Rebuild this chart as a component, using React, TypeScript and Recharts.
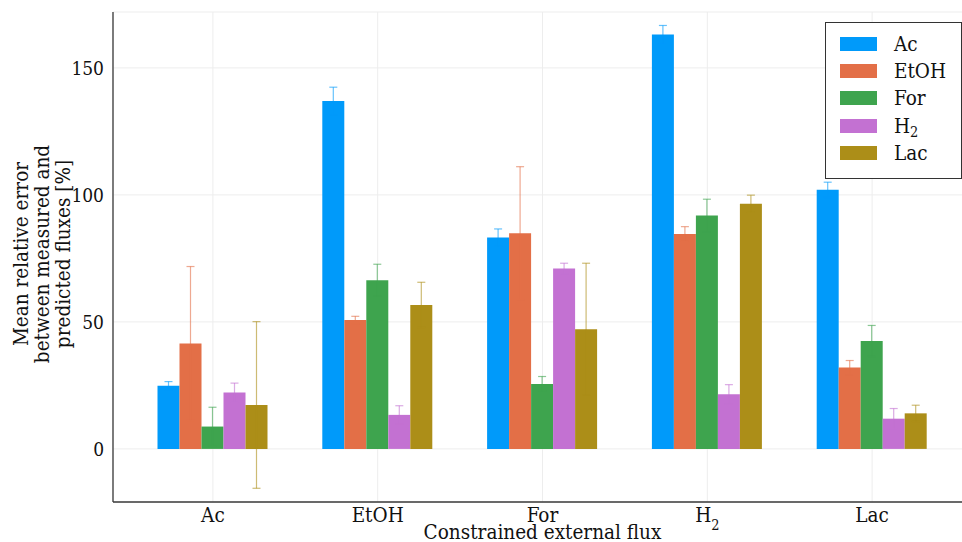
import React from 'react';
import { BarChart, Bar, XAxis, YAxis, CartesianGrid, ErrorBar, Legend } from 'recharts';

const categories = ['Ac', 'EtOH', 'For', 'H2', 'Lac'];
const seriesNames = ['Ac', 'EtOH', 'For', 'H2', 'Lac'];
const colors = ['#009AFA', '#E36F47', '#3EA44E', '#C371D2', '#AC8E18'];
const acValues = [24.9, 137.0, 83.2, 163.1, 102.0];
const acErrors = [1.6, 5.4, 3.4, 3.6, 3.0];
const etohValues = [41.5, 50.7, 84.9, 84.6, 32.0];
const etohErrors = [30.3, 1.5, 26.2, 2.9, 2.8];
const forValues = [8.8, 66.4, 25.6, 91.9, 42.5];
const forErrors = [7.6, 6.3, 2.9, 6.4, 6.1];
const h2Values = [22.2, 13.4, 71.0, 21.5, 11.9];
const h2Errors = [3.7, 3.6, 2.1, 3.8, 4.0];
const lacValues = [17.3, 56.7, 47.1, 96.5, 14.0];
const lacErrors = [32.8, 8.9, 26.0, 3.4, 3.2];
const yTicks = [0, 50, 100, 150];

const valueSets = [acValues, etohValues, forValues, h2Values, lacValues];
const errorSets = [acErrors, etohErrors, forErrors, h2Errors, lacErrors];

const data = categories.map((cat, i) => {
  const row: any = { cat };
  valueSets.forEach((vals, s) => {
    row['v' + s] = vals[i];
    row['e' + s] = errorSets[s][i];
  });
  return row;
});

const FONT = "'DejaVu Serif Condensed', 'DejaVu Serif', serif";
const FS_TICK_Y = 19;
const FS_TICK_X = 20.5;
const FS_LEGEND = 20.5;
const FS_GUIDE = 20.5;

const Label = ({ text, fs }: { text: string; fs: number }) =>
  text === 'H2' ? (
    <>
      H<tspan baselineShift="sub" fontSize={fs * 0.7}>2</tspan>
    </>
  ) : (
    <>{text}</>
  );

const XTick = (props: any) => {
  const { x, y, payload } = props;
  return (
    <text x={x} y={y + 18} textAnchor="middle" fontFamily={FONT} fontSize={FS_TICK_X} fill="#111">
      <Label text={payload.value} fs={FS_TICK_X} />
    </text>
  );
};

const YTick = (props: any) => {
  const { x, y, payload } = props;
  return (
    <text x={x} y={y} textAnchor="end" dominantBaseline="central" fontFamily={FONT} fontSize={FS_TICK_Y} fill="#111">
      {payload.value}
    </text>
  );
};

const YLabel = () => {
  const cy = 254;
  const lines = ['Mean relative error', 'between measured and', 'predicted fluxes [%]'];
  const xs = [21, 42, 63];
  return (
    <g>
      {lines.map((l, i) => (
        <text
          key={i}
          x={xs[i]}
          y={cy}
          transform={`rotate(-90 ${xs[i]} ${cy})`}
          textAnchor="middle"
          dominantBaseline="central"
          fontFamily={FONT}
          fontSize={FS_GUIDE}
          fill="#111"
        >
          {l}
        </text>
      ))}
    </g>
  );
};

const XLabel = (props: any) => {
  const vb = props.viewBox || {};
  const cx = (vb.x || 113) + (vb.width || 859) / 2;
  return (
    <text x={cx} y={539} textAnchor="middle" fontFamily={FONT} fontSize={FS_GUIDE} fill="#111">
      Constrained external flux
    </text>
  );
};

const LegendBox = () => (
  <div
    style={{
      position: 'relative',
      width: 135,
      height: 155,
      border: '1px solid #333',
      background: '#fff',
      fontFamily: FONT,
      fontSize: FS_LEGEND,
      color: '#111',
    }}
  >
    {seriesNames.map((n, i) => (
      <div key={n} style={{ position: 'absolute', left: 0, top: 21 + i * 27.2 - 12, height: 24, width: 135 }}>
        <div style={{ position: 'absolute', left: 14, top: 5, width: 37, height: 14, background: colors[i] }} />
        <div style={{ position: 'absolute', left: 68, top: 0, lineHeight: '24px', whiteSpace: 'nowrap' }}>
          {n === 'H2' ? (
            <span>
              H<sub style={{ fontSize: FS_LEGEND * 0.7, verticalAlign: '-0.25em', lineHeight: 0 }}>2</sub>
            </span>
          ) : (
            n
          )}
        </div>
      </div>
    ))}
  </div>
);

export default function App() {
  return (
    <div style={{ position: 'absolute', left: 0, top: 0, width: 962, height: 542, overflow: 'hidden', background: '#fff' }}>
      <BarChart
        width={990}
        height={542}
        data={data}
        margin={{ top: 12, right: 18, bottom: 0, left: 0 }}
        barGap={0}
        barSize={22}
      >
        <CartesianGrid stroke="#ededed" strokeWidth={1} />
        <XAxis
          dataKey="cat"
          xAxisId={0}
          height={40}
          padding={{ left: 17.5, right: 17.5 }}
          tick={<XTick />}
          tickLine={false}
          tickSize={0}
          interval={0}
          axisLine={{ stroke: '#3a3a3a', strokeWidth: 1.3 }}
          label={<XLabel />}
        />
        <XAxis
          dataKey="cat"
          xAxisId="top"
          orientation="top"
          height={0}
          padding={{ left: 17.5, right: 17.5 }}
          tick={false}
          tickLine={false}
          axisLine={{ stroke: '#3a3a3a', strokeWidth: 1.3 }}
        />
        <YAxis
          width={113}
          domain={[-20.9, 172]}
          ticks={yTicks}
          allowDataOverflow
          tickLine={false}
          tickSize={0}
          tickMargin={9}
          tick={<YTick />}
          axisLine={{ stroke: '#3a3a3a', strokeWidth: 1.3 }}
          label={<YLabel />}
        />
        {seriesNames.map((n, s) => (
          <Bar
            key={'err' + s}
            xAxisId="top"
            dataKey={'v' + s}
            fill="transparent"
            legendType="none"
            isAnimationActive={false}
          >
            <ErrorBar dataKey={'e' + s} width={4} strokeWidth={1.2} stroke={colors[s]} strokeOpacity={0.6} direction="y" />
          </Bar>
        ))}
        {seriesNames.map((n, s) => (
          <Bar key={'bar' + s} xAxisId={0} dataKey={'v' + s} name={n} fill={colors[s]} isAnimationActive={false} />
        ))}
        <Legend
          layout="vertical"
          align="center"
          verticalAlign="middle"
          content={<LegendBox />}
          wrapperStyle={{ position: 'absolute', left: 825, top: 22, width: 137, height: 157 }}
        />
      </BarChart>
    </div>
  );
}
